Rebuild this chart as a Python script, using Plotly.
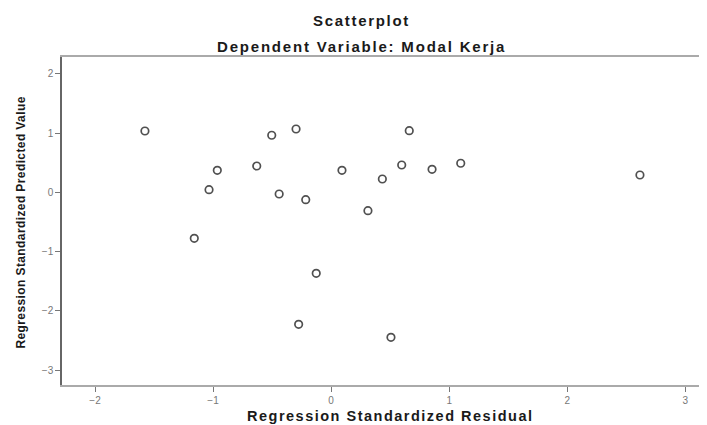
import plotly.graph_objects as go

residual = [-1.577, -0.503, -0.297, 0.662, -0.964, -0.630, -1.034, -0.440, -0.215, 0.092,
            0.434, 0.598, 0.855, 1.098, 2.616, 0.312, -1.159, -0.126, -0.275, 0.507]
predicted = [1.037, 0.965, 1.071, 1.042, 0.373, 0.446, 0.046, -0.027, -0.123, 0.373,
             0.226, 0.463, 0.390, 0.492, 0.294, -0.309, -0.775, -1.367, -2.228, -2.448]
x_ticks = [-2, -1, 0, 1, 2, 3]
y_ticks = [-3, -2, -1, 0, 1, 2]

title = "Scatterplot"
subtitle = "Dependent Variable: Modal Kerja"
x_title = "Regression Standardized Residual"
y_title = "Regression Standardized Predicted Value"


def wide(s, sp):
    return '<span style="letter-spacing:%.1fpx"><b>%s</b></span>' % (sp, s)


fig = go.Figure()
fig.add_trace(go.Scatter(
    x=residual, y=predicted, mode="markers",
    marker=dict(symbol="circle-open", size=7.5, color="#505050", line=dict(width=1.7)),
    showlegend=False, hoverinfo="skip"))

fnt = "Liberation Sans, Arial, sans-serif"
fig.update_layout(
    width=699, height=417,
    margin=dict(l=54, r=0, t=49, b=40),
    paper_bgcolor="white", plot_bgcolor="white",
    font=dict(family=fnt),
    xaxis=dict(range=[-2.2795, 3.184], tickvals=x_ticks, showgrid=False, zeroline=False,
               showline=True, linecolor="#aaaaaa", linewidth=1.5, mirror=True,
               ticks="outside", ticklen=5, tickcolor="#777777", tickwidth=1,
               tickfont=dict(size=10, color="#777777", family=fnt)),
    yaxis=dict(range=[-3.253, 2.287], tickvals=y_ticks, showgrid=False, zeroline=False,
               showline=True, linecolor="#666666", linewidth=1.5,
               ticks="outside", ticklen=5, tickcolor="#777777", tickwidth=1,
               tickfont=dict(size=10, color="#777777", family=fnt)),
    annotations=[
        dict(text=wide(title, 1.7), xref="paper", yref="paper", x=0.4636, y=1.1098,
             xanchor="center", yanchor="middle", showarrow=False,
             font=dict(size=15, color="#1a1a1a", family=fnt)),
        dict(text=wide(subtitle, 1.8), xref="paper", yref="paper", x=0.4636, y=1.0305,
             xanchor="center", yanchor="middle", showarrow=False,
             font=dict(size=15, color="#1a1a1a", family=fnt)),
        dict(text=wide(x_title, 1.5), xref="paper", yref="paper", x=0.5093, y=-0.095,
             xanchor="center", yanchor="middle", showarrow=False,
             font=dict(size=14.5, color="#1a1a1a", family=fnt)),
        dict(text=wide(y_title, 0.4), xref="paper", yref="paper", x=-0.0636, y=0.495,
             xanchor="center", yanchor="middle", showarrow=False, textangle=-90,
             font=dict(size=12, color="#1a1a1a", family=fnt)),
    ],
)

fig.write_html("out.html")
